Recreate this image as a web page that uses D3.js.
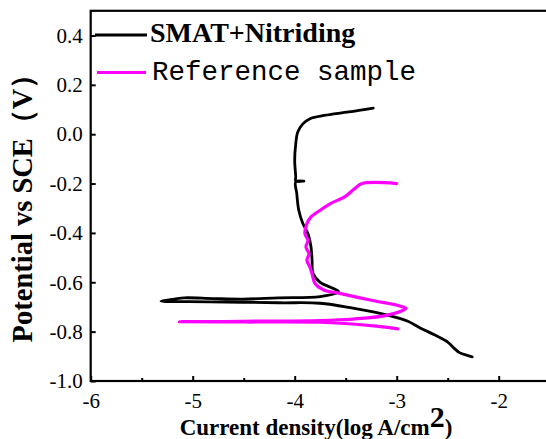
<!DOCTYPE html>
<html>
<head>
<meta charset="utf-8">
<script src="https://cdn.jsdelivr.net/npm/d3@7"></script>
<style>
  body { margin: 0; background: #fff; overflow: hidden; }
  svg { display: block; }
</style>
</head>
<body>
<svg width="546" height="439"></svg>
<script>
// SMAT+Nitriding curve, log current density (x) and potential (y)
var smatX = [-3.23, -3.47, -3.71, -3.85, -3.92, -3.97, -3.99, -4.0, -3.99, -3.99, -3.91, -3.99,
  -3.98, -3.96, -3.92, -3.87, -3.84, -3.83, -3.82, -3.75, -3.65, -3.57,
  -3.75, -4.16, -4.5, -4.8, -5.08, -5.18, -5.31,
  -4.84, -4.16, -3.75, -3.43, -3.09, -2.89, -2.77, -2.62, -2.5, -2.43, -2.38, -2.26];
var smatY = [0.106, 0.09, 0.076, 0.063, 0.042, 0.009, -0.04, -0.106, -0.173, -0.19, -0.19, -0.193,
  -0.24, -0.308, -0.362, -0.403, -0.457, -0.51, -0.565, -0.6, -0.62, -0.638,
  -0.658, -0.663, -0.668, -0.666, -0.663, -0.668, -0.676,
  -0.679, -0.683, -0.685, -0.705, -0.733, -0.758, -0.785, -0.815, -0.842, -0.87, -0.886, -0.902];

// Reference sample curve
var refX = [-3.0, -3.34, -3.41, -3.51, -3.65, -3.75, -3.84, -3.88, -3.9, -3.87, -3.89, -3.86, -3.88, -3.85, -3.83,
  -3.8, -3.71, -3.58, -3.26, -2.97, -2.91, -3.09, -3.43, -3.75, -4.5, -5.13,
  -4.5, -3.75, -3.43, -3.2, -2.99];
var refY = [-0.2, -0.2, -0.22, -0.254, -0.281, -0.308, -0.335, -0.362, -0.403, -0.43, -0.457, -0.485, -0.51, -0.54, -0.565,
  -0.605, -0.632, -0.643, -0.672, -0.696, -0.706, -0.733, -0.749, -0.755, -0.758, -0.76,
  -0.761, -0.762, -0.769, -0.778, -0.789];

var xMajor = [-6, -5, -4, -3, -2];
var xMinor = [-5.5, -4.5, -3.5, -2.5];
var yMajor = [0.4, 0.2, 0.0, -0.2, -0.4, -0.6, -0.8, -1.0];

var seriesNames = ["SMAT+Nitriding", "Reference sample"];
var seriesColors = ["#000000", "#ff00ff"];

var svg = d3.select("svg");

var x = d3.scaleLinear().domain([-6, -1.5]).range([90.7, 549.7]);
var y = d3.scaleLinear().domain([-1.0, 0.5]).range([381, 10.8]);

var serif = "Liberation Serif, Times New Roman, serif";

// frame
svg.append("rect")
    .attr("x", x(-6))
    .attr("y", y(0.5))
    .attr("width", x(-1.5) - x(-6))
    .attr("height", y(-1.0) - y(0.5))
    .attr("fill", "none")
    .attr("stroke", "#000")
    .attr("stroke-width", 2.2);

// x axis, ticks pointing inward
var xAxis = svg.append("g")
    .attr("transform", "translate(0," + y(-1.0) + ")")
    .call(d3.axisBottom(x).tickValues(xMajor).tickSize(-5).tickPadding(12)
        .tickFormat(function(d) { return String(d); }))
    .attr("font-family", serif)
    .attr("font-size", 21);
xAxis.select(".domain").remove();
xAxis.selectAll("line").attr("stroke-width", 2);
xAxis.selectAll("text").attr("fill", "#000");

var xMinorAxis = svg.append("g")
    .attr("transform", "translate(0," + y(-1.0) + ")")
    .call(d3.axisBottom(x).tickValues(xMinor).tickSize(-3).tickFormat(""));
xMinorAxis.select(".domain").remove();
xMinorAxis.selectAll("line").attr("stroke-width", 2);

// y axis
var yAxis = svg.append("g")
    .attr("transform", "translate(" + x(-6) + ",0)")
    .call(d3.axisLeft(y).tickValues(yMajor).tickSize(-5).tickPadding(8)
        .tickFormat(function(d) { return d.toFixed(1); }))
    .attr("font-family", serif)
    .attr("font-size", 21);
yAxis.select(".domain").remove();
yAxis.selectAll("line").attr("stroke-width", 2);
yAxis.selectAll("text").attr("fill", "#000");

// curves
var line = d3.line()
    .x(function(d) { return x(d[0]); })
    .y(function(d) { return y(d[1]); })
    .curve(d3.curveCatmullRom.alpha(0.5));

var smat = d3.zip(smatX, smatY);
var ref = d3.zip(refX, refY);

svg.append("path")
    .datum(smat)
    .attr("d", line)
    .attr("fill", "none")
    .attr("stroke", seriesColors[0])
    .attr("stroke-width", 2.8)
    .attr("stroke-linejoin", "round")
    .attr("stroke-linecap", "round");

svg.append("path")
    .datum(ref)
    .attr("d", line)
    .attr("fill", "none")
    .attr("stroke", seriesColors[1])
    .attr("stroke-width", 3.2)
    .attr("stroke-linejoin", "round")
    .attr("stroke-linecap", "round");

// legend
var legend = svg.append("g");
legend.append("line")
    .attr("x1", 95).attr("x2", 147).attr("y1", 35).attr("y2", 35)
    .attr("stroke", seriesColors[0]).attr("stroke-width", 2.8);
legend.append("text")
    .attr("x", 150).attr("y", 42)
    .attr("font-family", serif)
    .attr("font-weight", "bold")
    .attr("font-size", 28)
    .text(seriesNames[0]);
legend.append("line")
    .attr("x1", 97).attr("x2", 146).attr("y1", 72.5).attr("y2", 72.5)
    .attr("stroke", seriesColors[1]).attr("stroke-width", 3.2);
legend.append("text")
    .attr("x", 152).attr("y", 79.5)
    .attr("font-family", "Liberation Mono, Courier New, monospace")
    .attr("font-size", 27.5)
    .text(seriesNames[1]);

// axis titles
var xTitle = svg.append("text")
    .attr("x", 316).attr("y", 435)
    .attr("text-anchor", "middle")
    .attr("font-family", serif)
    .attr("font-weight", "bold")
    .attr("font-size", 23);
xTitle.append("tspan").text("Current density(log A/cm");
xTitle.append("tspan").attr("dy", -8).attr("font-size", 30).text("2");
xTitle.append("tspan").attr("dy", 8).text(")");

svg.append("text")
    .attr("transform", "translate(32,201) rotate(-90)")
    .attr("text-anchor", "middle")
    .attr("font-family", serif)
    .attr("font-weight", "bold")
    .attr("font-size", 28.5)
    .text("Potential vs SCE（V）");
</script>
</body>
</html>
